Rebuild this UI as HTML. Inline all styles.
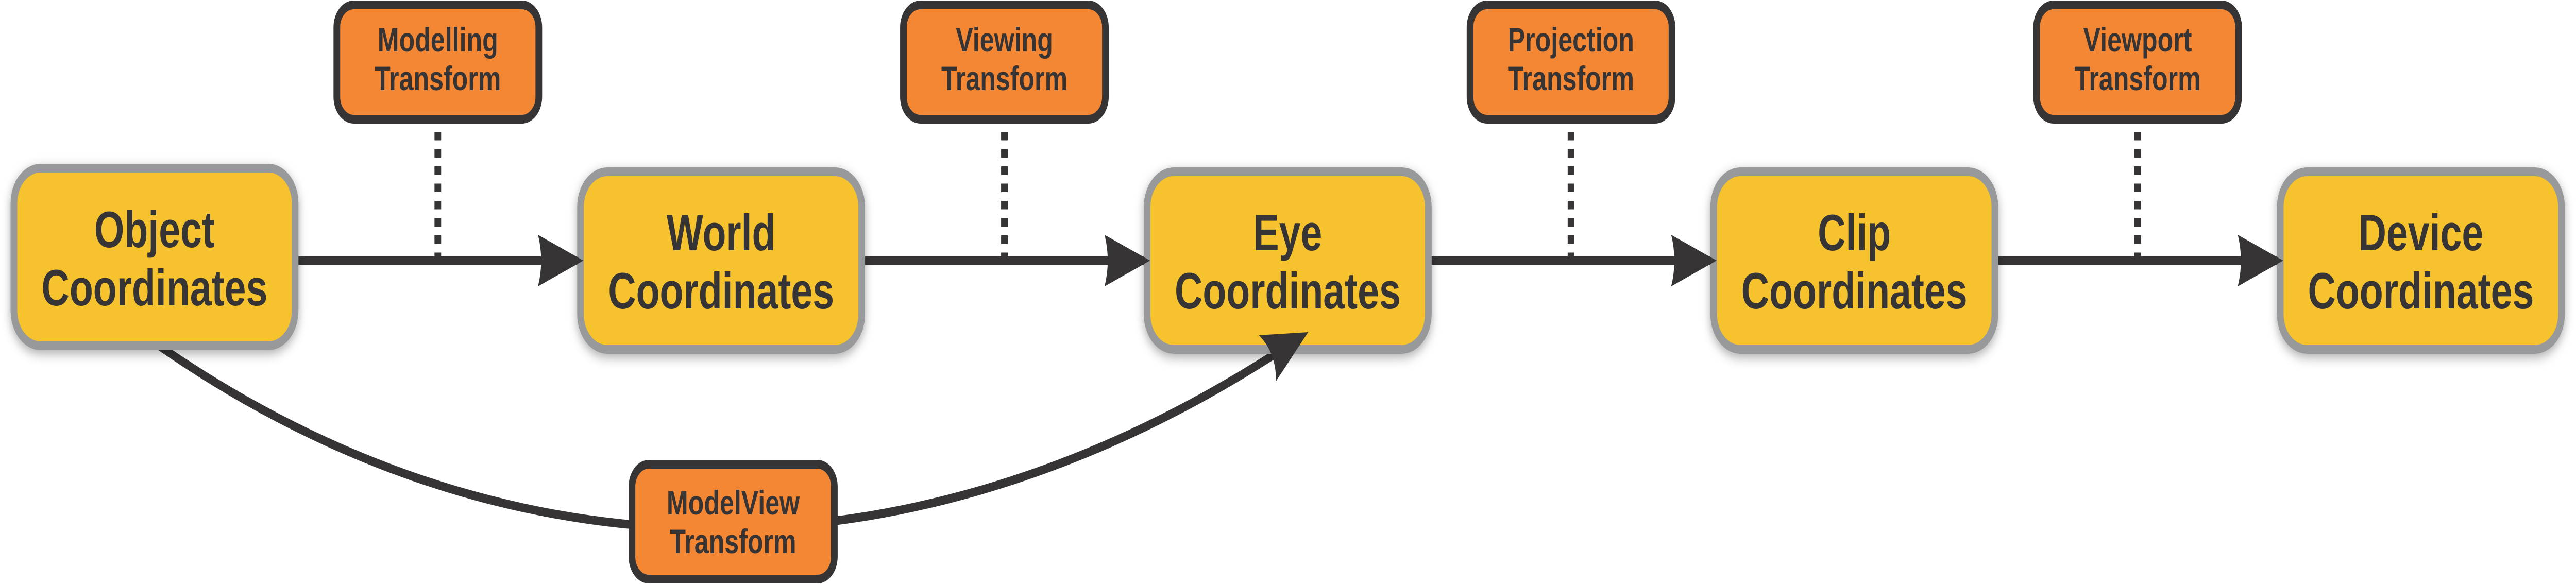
<!DOCTYPE html>
<html>
<head>
<meta charset="utf-8">
<style>
  html, body { margin:0; padding:0; background:#ffffff; width:100%; height:100%; overflow:hidden; }
  svg { display:block; width:100vw; height:100vh; }
  text { font-family:"Liberation Sans", Arial, Helvetica, sans-serif; font-weight:bold; fill:#363435; }
</style>
</head>
<body>
<svg viewBox="0 0 6581 1134" preserveAspectRatio="none" xmlns="http://www.w3.org/2000/svg">
  <defs>
    <filter id="sh" x="-10%" y="-20%" width="120%" height="150%">
      <feDropShadow dx="0" dy="7" stdDeviation="11" flood-color="#000" flood-opacity="0.32"/>
    </filter>
  </defs>
  <rect x="0" y="0" width="6581" height="1134" fill="#ffffff"/>

  <!-- dashed connectors from transform boxes -->
  <g stroke="#363435" stroke-width="17" stroke-dasharray="16.5 17" fill="none">
    <line x1="1118.5" y1="256" x2="1118.5" y2="500"/>
    <line x1="2566" y1="256" x2="2566" y2="500"/>
    <line x1="4013.5" y1="256" x2="4013.5" y2="500"/>
    <line x1="5461" y1="256" x2="5461" y2="500"/>
  </g>

  <!-- horizontal connector lines -->
  <g stroke="#363435" stroke-width="17" fill="none">
    <line x1="755" y1="506" x2="1480" y2="506"/>
    <line x1="2202" y1="506" x2="2927" y2="506"/>
    <line x1="3650" y1="506" x2="4375" y2="506"/>
    <line x1="5097" y1="506" x2="5822" y2="506"/>
  </g>

  <!-- ModelView curve -->
  <path d="M396,666 L423,680 C1308,1140 2325,1140 3250,691" stroke="#363435" stroke-width="17" fill="none"/>

  <!-- yellow coordinate boxes -->
  <g filter="url(#sh)">
    <rect x="35.5" y="326.5" width="718.5" height="345" rx="68.5" ry="68.5" fill="#F6C32D" stroke="#98999B" stroke-width="17"/>
    <rect x="1483" y="333.5" width="718.5" height="345" rx="68.5" ry="68.5" fill="#F6C32D" stroke="#98999B" stroke-width="17"/>
    <rect x="2930.5" y="333.5" width="718.5" height="345" rx="68.5" ry="68.5" fill="#F6C32D" stroke="#98999B" stroke-width="17"/>
    <rect x="4378" y="333.5" width="718.5" height="345" rx="68.5" ry="68.5" fill="#F6C32D" stroke="#98999B" stroke-width="17"/>
    <rect x="5825.5" y="333.5" width="718.5" height="345" rx="68.5" ry="68.5" fill="#F6C32D" stroke="#98999B" stroke-width="17"/>
  </g>

  <!-- horizontal arrowheads -->
  <g fill="#363435">
    <path d="M1490.5,506 L1374.5,456 Q1390.5,506 1374.5,556 Z"/>
    <path d="M2938,506 L2822,456 Q2838,506 2822,556 Z"/>
    <path d="M4385.5,506 L4269.5,456 Q4285.5,506 4269.5,556 Z"/>
    <path d="M5833,506 L5717,456 Q5733,506 5717,556 Z"/>
    <!-- curve arrowhead into Eye -->
    <path d="M3342,645 L3216,651 Q3260,684 3260,740 Z"/>
  </g>

  <!-- orange transform boxes -->
  <g fill="#F48734" stroke="#363435" stroke-width="17">
    <rect x="860.5" y="9.5" width="516" height="222" rx="43.5" ry="43.5"/>
    <rect x="2308" y="9.5" width="516" height="222" rx="43.5" ry="43.5"/>
    <rect x="3755.5" y="9.5" width="516" height="222" rx="43.5" ry="43.5"/>
    <rect x="5203" y="9.5" width="516" height="222" rx="43.5" ry="43.5"/>
    <rect x="1614.5" y="901.5" width="517" height="223" rx="43.5" ry="43.5"/>
  </g>

  <!-- coordinate box labels -->
  <g font-size="99" text-anchor="middle">
    <text x="394.75" y="480">Object</text>
    <text x="394.75" y="593">Coordinates</text>
    <text x="1842.25" y="486">World</text>
    <text x="1842.25" y="599">Coordinates</text>
    <text x="3289.75" y="486">Eye</text>
    <text x="3289.75" y="599">Coordinates</text>
    <text x="4737.25" y="486">Clip</text>
    <text x="4737.25" y="599">Coordinates</text>
    <text x="6184.75" y="486">Device</text>
    <text x="6184.75" y="599">Coordinates</text>
  </g>

  <!-- transform labels -->
  <g font-size="66" text-anchor="middle">
    <text x="1118.5" y="100">Modelling</text>
    <text x="1118.5" y="175">Transform</text>
    <text x="2566" y="100">Viewing</text>
    <text x="2566" y="175">Transform</text>
    <text x="4013.5" y="100">Projection</text>
    <text x="4013.5" y="175">Transform</text>
    <text x="5461" y="100">Viewport</text>
    <text x="5461" y="175">Transform</text>
    <text x="1873" y="999">ModelView</text>
    <text x="1873" y="1074">Transform</text>
  </g>
</svg>
</body>
</html>
